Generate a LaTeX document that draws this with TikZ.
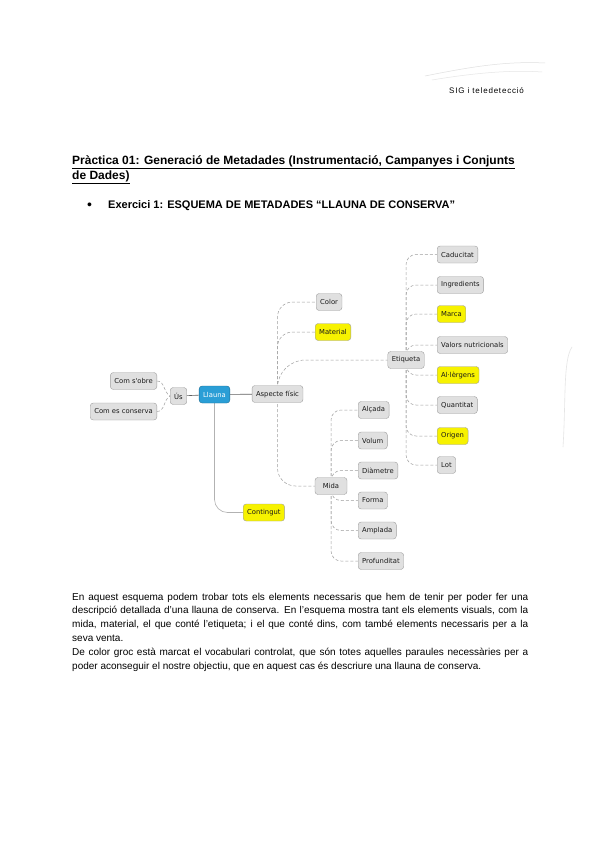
\documentclass[tikz,border=0pt]{standalone}
\usepackage{fontspec}
\setmainfont{Liberation Sans}
\newfontfamily\mapfont{DejaVu Sans}
\usetikzlibrary{backgrounds}
\definecolor{llaunablue}{HTML}{2A9ED6}
\definecolor{groc}{HTML}{F7F200}
\definecolor{boxgray}{HTML}{E0E0E0}
\tikzset{
  concept/.style={draw=gray!75,fill=boxgray,rounded corners=3pt,minimum height=17pt,inner xsep=4pt,inner ysep=0pt,font=\mapfont\fontsize{6.8}{8}\selectfont,text=black!90},
  link/.style={gray!75,densely dashed,line width=0.5pt},
  trunk/.style={gray!75!black,line width=0.6pt},
  bodyline/.style={anchor=base west,inner sep=0pt,font=\fontsize{10}{12}\selectfont}
}
\begin{document}
\begin{tikzpicture}[x=1pt,y=-1pt]
\useasboundingbox (0,0) rectangle (600,848);
\begin{scope}[on background layer]
\fill[white] (0,0) rectangle (600,848);
\end{scope}
% faint pen marks
\draw[gray!25,line width=0.5pt] (425,76) .. controls (470,67) and (505,61) .. (545,63);
\draw[gray!20,line width=0.5pt] (432,80) .. controls (480,72) and (515,70) .. (542,72);
\draw[gray!20,line width=0.6pt] (572,347) .. controls (563,360) and (566,400) .. (563,447);
% header and title
\node[anchor=base west,inner sep=0pt,font=\fontsize{8}{9}\selectfont\addfontfeatures{LetterSpace=10}] (header) at (449,94) {SIG i teledetecció};
\node[anchor=base west,inner sep=0pt,font=\bfseries\fontsize{12}{14}\selectfont] (title1) at (72,164) {\underline{Pràctica 01: Generació de Metadades (Instrumentació, Campanyes i Conjunts}};
\node[anchor=base west,inner sep=0pt,font=\bfseries\fontsize{12}{14}\selectfont] (title2) at (72,179) {\underline{de Dades)}};
\node[anchor=base west,inner sep=0pt,font=\fontsize{14}{14}\selectfont] (bullet) at (87,209) {\textbullet};
\node[anchor=base west,inner sep=0pt,font=\bfseries\fontsize{11}{13}\selectfont] (exercici) at (108,208) {Exercici 1: ESQUEMA DE METADADES “LLAUNA DE CONSERVA”};
% mind map
\node[concept,fill=llaunablue,draw=llaunablue!70!black,text=white] (llauna) at (214.5,394.5) {Llauna};
\node[concept] (us) at (178.5,396) {Ús};
\node[concept,anchor=east] (obre) at (157,381) {Com s'obre};
\node[concept,anchor=east] (conserva) at (157,411.5) {Com es conserva};
\node[concept] (aspecte) at (277.5,394) {Aspecte físic};
\node[concept,anchor=west] (color) at (316,302) {Color};
\node[concept,anchor=west,fill=groc] (material) at (315,332) {Material};
\node[concept] (etiqueta) at (406,360) {Etiqueta};
\node[concept,minimum width=32pt] (mida) at (331,486) {Mida};
\node[concept,anchor=west,fill=groc] (contingut) at (243,512.5) {Contingut};
\draw[trunk] (us) -- (llauna);
\draw[trunk] (llauna) -- (aspecte);
\draw[link] (obre.east) to[out=0,in=150] (us.west);
\draw[link] (conserva.east) to[out=0,in=-150] (us.west);
\begin{scope}[on background layer]
\draw[gray!60,line width=0.6pt,rounded corners=13pt] (llauna.center) |- (contingut.west);
\draw[link,rounded corners=15pt] (aspecte.center) |- (color.west);
\draw[link,rounded corners=15pt] (aspecte.center) |- (material.west);
\draw[link,rounded corners=28pt] (aspecte.center) |- (etiqueta.west);
\draw[link,rounded corners=18pt] (aspecte.center) |- (mida.west);
\end{scope}
\foreach \n/\t/\y/\c in {caducitat/Caducitat/254.5/boxgray,ingredients/Ingredients/285/boxgray,marca/Marca/314/groc,valors/Valors nutricionals/345/boxgray,alergens/Al·lèrgens/375/groc,quantitat/Quantitat/405/boxgray,origen/Origen/436/groc,lot/Lot/465/boxgray}{
  \node[concept,anchor=west,fill=\c] (\n) at (437,\y) {\t};
  \begin{scope}[on background layer]\draw[link,rounded corners=10pt] (etiqueta.center) |- (\n.west);\end{scope}
}
\foreach \n/\t/\y in {alcada/Alçada/410,volum/Volum/440.5,diametre/Diàmetre/470.5,forma/Forma/500.5,amplada/Amplada/530.5,profunditat/Profunditat/561}{
  \node[concept,anchor=west] (\n) at (358,\y) {\t};
  \begin{scope}[on background layer]\draw[link,rounded corners=10pt] (mida.center) |- (\n.west);\end{scope}
}
% text below the map
\foreach \n/\y/\t in {body1/600/{En aquest esquema podem trobar tots els elements necessaris que hem de tenir per poder fer una},
  body2/613.8/{descripció detallada d’una llauna de conserva. En l’esquema mostra tant els elements visuals, com la},
  body3/627.6/{mida, material, el que conté l’etiqueta; i el que conté dins, com també elements necessaris per a la},
  body5/655.2/{De color groc està marcat el vocabulari controlat, que són totes aquelles paraules necessàries per a}}{
  \node[bodyline] (\n) at (72,\y) {\makebox[456pt][s]{\t}};
}
\node[bodyline] (body4) at (72,641.4) {seva venta.};
\node[bodyline] (body6) at (72,669) {poder aconseguir el nostre objectiu, que en aquest cas és descriure una llauna de conserva.};
\end{tikzpicture}
\end{document}
